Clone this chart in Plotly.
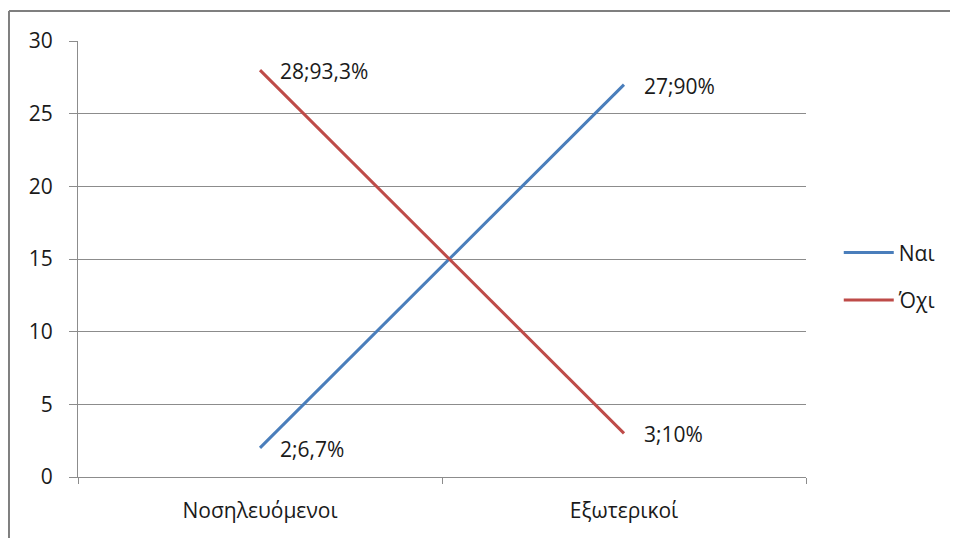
import plotly.graph_objects as go

categories = ["Νοσηλευόμενοι", "Εξωτερικοί"]
nai_values = [2, 27]
oxi_values = [28, 3]
nai_labels = ["2;6,7%", "27;90%"]
oxi_labels = ["28;93,3%", "3;10%"]
y_ticks = [0, 5, 10, 15, 20, 25, 30]

FONT = "Open Sans"
BLUE = "#4A7EBB"
RED = "#BE4B48"
GRID = "#8C8C8C"
TXT = "#1a1a1a"

fig = go.Figure()
fig.add_trace(go.Scatter(
    x=categories, y=nai_values, name="Ναι", mode="lines",
    line=dict(color=BLUE, width=3), legendgroup="a",
))
fig.add_trace(go.Scatter(
    x=categories, y=oxi_values, name="Όχι", mode="lines",
    line=dict(color=RED, width=3), legendgroup="b",
))

annotations = []
for vals, labs in ((nai_values, nai_labels), (oxi_values, oxi_labels)):
    for c, v, t in zip(categories, vals, labs):
        annotations.append(dict(
            x=c, y=v, xref="x", yref="y", text=t, showarrow=False,
            xanchor="left", yanchor="middle", xshift=18, yshift=-1,
            font=dict(family=FONT, size=21, color=TXT)))

frame = dict(color="#7F7F7F", width=2)
fig.update_layout(
    width=950, height=530,
    margin=dict(l=70, r=152, t=33, b=61),
    paper_bgcolor="white", plot_bgcolor="white",
    font=dict(family=FONT, size=21, color=TXT),
    showlegend=True,
    legend=dict(x=1.045, y=0.46, xanchor="left", yanchor="middle",
                tracegroupgap=17, traceorder="grouped",
                font=dict(family=FONT, size=21, color=TXT), itemwidth=50),
    xaxis=dict(type="category", range=[-0.5, 1.5], showgrid=False,
               showline=True, linecolor=GRID, linewidth=1,
               ticks="outside", tickson="boundaries", ticklen=6, tickcolor=GRID,
               ticklabelstandoff=15, tickfont=dict(size=21)),
    yaxis=dict(range=[0, 30], tickvals=y_ticks, showgrid=True, gridcolor=GRID,
               gridwidth=1, showline=True, linecolor=GRID, linewidth=1,
               ticks="outside", ticklen=8, tickcolor=GRID, zeroline=False,
               ticklabelstandoff=12, tickfont=dict(size=21)),
    annotations=annotations,
    shapes=[
        dict(type="line", xref="paper", yref="paper",
             x0=-0.0948, x1=1.21, y0=1.0688, y1=1.0688, line=frame, layer="below"),
        dict(type="line", xref="paper", yref="paper",
             x0=-0.0948, x1=-0.0948, y0=-0.15, y1=1.0688, line=frame, layer="below"),
    ],
)

fig.write_html("out.html")
